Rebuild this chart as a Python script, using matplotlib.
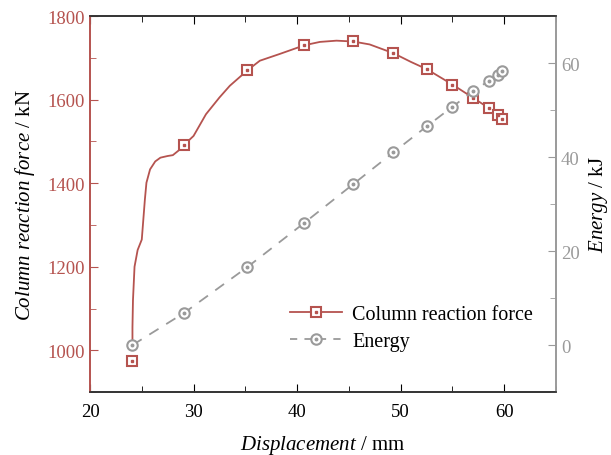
import matplotlib.pyplot as plt
from matplotlib.lines import Line2D
from matplotlib.ticker import MultipleLocator

plt.rcParams['font.family'] = ['Liberation Serif', 'DejaVu Serif']
plt.rcParams['mathtext.fontset'] = 'custom'
plt.rcParams['mathtext.it'] = 'Liberation Serif:italic'
plt.rcParams['mathtext.rm'] = 'Liberation Serif'

# column reaction force curve (kN) vs displacement (mm)
curve_x = [24.1, 24.1, 24.15, 24.3, 24.6, 25.0, 25.3, 25.45, 25.8, 26.3, 26.8, 27.5,
           28.0, 28.7, 29.1, 30.0, 31.2, 32.5, 33.5, 35.2, 36.4, 38.3, 40.7, 42.2,
           43.8, 45.4, 47.0, 49.3, 51.0, 52.5, 55.0, 57.0, 58.5, 59.4, 59.8]
curve_f = [1025, 1055, 1120, 1200, 1240, 1265, 1361, 1401, 1433, 1452, 1461, 1465,
           1467, 1481, 1492, 1513, 1565, 1605, 1633, 1670, 1693, 1709, 1730, 1738,
           1741, 1739, 1732, 1711, 1690, 1673, 1636, 1604, 1580, 1562, 1554]

# marker points
mark_x = [24.1, 29.06, 35.2, 40.7, 45.4, 49.3, 52.5, 55.0, 57.0, 58.5, 59.4, 59.8]
mark_f = [975, 1492, 1670, 1730, 1739, 1711, 1673, 1636, 1604, 1580, 1562, 1554]
energy = [0, 6.8, 16.6, 26.0, 34.2, 41.0, 46.5, 50.7, 54.0, 56.2, 57.4, 58.3]

red = '#b5534f'
grey = '#9a9a9a'

fig = plt.figure(figsize=(6.11, 4.56), dpi=100)
ax = fig.add_axes([0.1473, 0.138, 0.7627, 0.8247])
ax2 = ax.twinx()

ax.plot(curve_x, curve_f, color=red, lw=1.3, zorder=3)
ax.plot(mark_x, mark_f, ls='none', marker='s', ms=7, mfc='white', mec=red, mew=1.5, zorder=4)
ax.plot(mark_x, mark_f, ls='none', marker='s', ms=1.6, color=red, zorder=5)

ax2.plot(mark_x, energy, color=grey, lw=1.3, ls=(0, (6, 5)), marker='o', ms=7.5,
         mfc='white', mec=grey, mew=1.5)
ax2.plot(mark_x, energy, ls='none', marker='o', ms=1.8, color=grey)

ax.set_xlim(20, 65)
ax.set_ylim(900, 1800)
ax2.set_ylim(-10, 70)
ax.xaxis.set_major_locator(MultipleLocator(10))
ax.xaxis.set_minor_locator(MultipleLocator(5))
ax.yaxis.set_major_locator(MultipleLocator(200))
ax.yaxis.set_minor_locator(MultipleLocator(100))
ax2.yaxis.set_major_locator(MultipleLocator(20))
ax2.yaxis.set_minor_locator(MultipleLocator(10))

ax.tick_params(axis='x', which='both', direction='in', top=True, labelsize=13.5, pad=8)
ax.tick_params(axis='x', which='major', length=6)
ax.tick_params(axis='x', which='minor', length=4)
ax.tick_params(axis='y', which='both', direction='in', colors=red, labelsize=13.5)
ax.tick_params(axis='y', which='major', length=6)
ax.tick_params(axis='y', which='minor', length=4)
ax2.tick_params(axis='y', which='both', direction='in', colors=grey, labelsize=13.5)
ax2.tick_params(axis='y', which='major', length=6)
ax2.tick_params(axis='y', which='minor', length=4)

for a in (ax, ax2):
    a.spines['left'].set_color(red)
    a.spines['right'].set_color(grey)
    a.spines['top'].set_color('#333333')
    a.spines['bottom'].set_color('#333333')
    for s in a.spines.values():
        s.set_linewidth(1.2)

ax.set_xlabel(r'$\mathit{Displacement}$ / mm', fontsize=15, labelpad=9)
ax.set_ylabel(r'$\mathit{Column\ reaction\ force}$ / kN', fontsize=15, labelpad=8)
ax2.set_ylabel(r'$\mathit{Energy}$ / kJ', fontsize=15, labelpad=5)

h1 = (Line2D([], [], color=red, lw=1.3, marker='s', ms=7, mfc='white', mec=red, mew=1.5),
      Line2D([], [], ls='none', marker='s', ms=1.6, color=red))
h2 = (Line2D([], [], color=grey, lw=1.3, ls=(0, (4, 4)), marker='o', ms=7.5, mfc='white',
             mec=grey, mew=1.5),
      Line2D([], [], ls='none', marker='o', ms=1.8, color=grey))
ax.legend([h1, h2], ['Column reaction force', 'Energy'], loc='lower right',
          bbox_to_anchor=(0.99, 0.06), frameon=False, fontsize=14.5, handlelength=2.6,
          handletextpad=0.5, labelspacing=0.4)

fig.savefig('out.png', dpi=100)
